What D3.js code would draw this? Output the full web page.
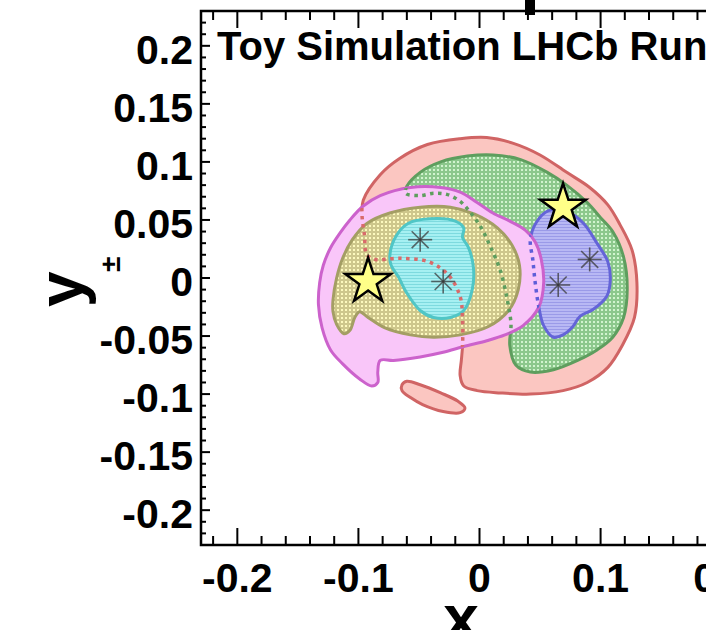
<!DOCTYPE html>
<html>
<head>
    <meta charset="UTF-8">
    <script src="https://d3js.org/d3.v7.min.js"></script>
    <style>
     body { margin: 0; background: white; }
     svg text { font-family: "Liberation Sans", Arial, sans-serif; font-weight: bold; fill: black; }
    </style>
</head>

<body>
    <div id="plot"></div>
    <script>
     // Confidence regions in the (x, y) plane
     const redContour = [
         [-0.096, 0.067], [-0.082, 0.089], [-0.066, 0.103], [-0.043, 0.115], [-0.016, 0.120],
         [0.006, 0.121], [0.028, 0.116], [0.050, 0.106], [0.072, 0.091], [0.091, 0.078],
         [0.106, 0.063], [0.116, 0.046], [0.126, 0.024], [0.130, -0.004], [0.128, -0.034],
         [0.118, -0.058], [0.106, -0.077], [0.089, -0.090], [0.069, -0.097], [0.042, -0.100],
         [0.017, -0.099], [-0.002, -0.097], [-0.013, -0.093], [-0.016, -0.084], [-0.015, -0.071],
         [-0.014, -0.058], [-0.014, -0.036], [-0.016, -0.016], [-0.026, 0.003], [-0.042, 0.014],
         [-0.066, 0.017], [-0.086, 0.016], [-0.093, 0.020], [-0.095, 0.037], [-0.097, 0.054]
     ];
     const redIsland = [
         [-0.064, -0.092], [-0.060, -0.089], [-0.049, -0.092], [-0.032, -0.099], [-0.018, -0.106],
         [-0.012, -0.112], [-0.016, -0.116], [-0.030, -0.115], [-0.047, -0.109], [-0.057, -0.103],
         [-0.064, -0.097]
     ];
     const greenContour = [
         [-0.060, 0.079], [-0.049, 0.091], [-0.032, 0.100], [-0.010, 0.105], [0.011, 0.106],
         [0.034, 0.102], [0.056, 0.091], [0.072, 0.080], [0.089, 0.065], [0.100, 0.052],
         [0.110, 0.040], [0.119, 0.018], [0.122, -0.010], [0.119, -0.034], [0.110, -0.051],
         [0.097, -0.062], [0.081, -0.071], [0.061, -0.079], [0.042, -0.081], [0.030, -0.075],
         [0.025, -0.058], [0.026, -0.040], [0.023, -0.019], [0.017, 0.007], [0.009, 0.027],
         [0.001, 0.044], [-0.008, 0.057], [-0.016, 0.066], [-0.027, 0.072], [-0.038, 0.073],
         [-0.049, 0.071], [-0.061, 0.073]
     ];
     const blueContour = [
         [0.042, 0.033], [0.047, 0.048], [0.057, 0.058], [0.073, 0.057], [0.086, 0.047],
         [0.097, 0.030], [0.106, 0.014], [0.108, -0.002], [0.105, -0.016], [0.094, -0.027],
         [0.083, -0.033], [0.077, -0.042], [0.069, -0.049], [0.061, -0.051], [0.053, -0.041],
         [0.049, -0.025], [0.046, -0.004], [0.044, 0.016]
     ];
     const magentaContour = [
         [-0.132, -0.004], [-0.129, 0.011], [-0.123, 0.026], [-0.115, 0.039], [-0.107, 0.050],
         [-0.096, 0.062], [-0.082, 0.071], [-0.057, 0.078], [-0.032, 0.078], [-0.016, 0.074],
         [-0.002, 0.065], [0.011, 0.056], [0.025, 0.049], [0.038, 0.041], [0.046, 0.031],
         [0.051, 0.016], [0.053, -0.004], [0.049, -0.025], [0.036, -0.041], [0.021, -0.049],
         [0.006, -0.054], [-0.013, -0.059], [-0.030, -0.064], [-0.049, -0.068], [-0.071, -0.071],
         [-0.082, -0.071], [-0.084, -0.081], [-0.084, -0.090], [-0.089, -0.093], [-0.099, -0.087],
         [-0.113, -0.074], [-0.123, -0.062], [-0.130, -0.043], [-0.133, -0.023]
     ];
     const yellowContour = [
         [-0.121, -0.019], [-0.118, 0.000], [-0.113, 0.017], [-0.105, 0.033], [-0.093, 0.047],
         [-0.074, 0.056], [-0.049, 0.061], [-0.024, 0.061], [-0.004, 0.055], [0.015, 0.043],
         [0.027, 0.028], [0.033, 0.011], [0.032, -0.010], [0.024, -0.028], [0.007, -0.042],
         [-0.016, -0.049], [-0.038, -0.051], [-0.057, -0.049], [-0.078, -0.043], [-0.092, -0.034],
         [-0.099, -0.029], [-0.103, -0.034], [-0.107, -0.045], [-0.112, -0.048], [-0.118, -0.040],
         [-0.121, -0.029]
     ];
     const cyanContour = [
         [-0.074, 0.020], [-0.069, 0.036], [-0.059, 0.047], [-0.041, 0.051], [-0.020, 0.049],
         [-0.013, 0.043], [-0.014, 0.035], [-0.009, 0.026], [-0.005, 0.009], [-0.006, -0.010],
         [-0.013, -0.028], [-0.024, -0.034], [-0.038, -0.034], [-0.049, -0.028], [-0.060, -0.013],
         [-0.067, 0.001], [-0.073, 0.011]
     ];

     // markers
     const starPoints = [[-0.092, -0.003], [0.069, 0.061]];
     const asteriskPoints = [[-0.049, 0.033], [-0.030, -0.003], [0.091, 0.016], [0.065, -0.006]];

     // axes
     const xMajor = [-0.2, -0.1, 0, 0.1, 0.2];
     const xTickLabels = ["-0.2", "-0.1", "0", "0.1", "0.2"];
     const yMajor = [0.2, 0.15, 0.1, 0.05, 0, -0.05, -0.1, -0.15, -0.2];
     const yTickLabels = ["0.2", "0.15", "0.1", "0.05", "0", "-0.05", "-0.1", "-0.15", "-0.2"];
     const xMinor = d3.range(-22, 23, 2).map(d => d / 100);
     const yMinor = d3.range(-22, 23, 1).map(d => d / 100);
     const titleText = "Toy Simulation LHCb Run";

     const width = 706, height = 630;
     const frame = {left: 201, top: 11, bottom: 545, right: 758};

     let svg = d3.select("#plot").append("svg")
                 .attr("width", width)
                 .attr("height", height);

     let x = d3.scaleLinear().domain([-0.23, 0.23]).range([frame.left, frame.right]);
     let y = d3.scaleLinear().domain([-0.23, 0.23]).range([frame.bottom, frame.top]);

     // hatch patterns
     let defs = svg.append("defs");
     function dotPattern(id, bg, dot) {
         let p = defs.append("pattern").attr("id", id)
                     .attr("width", 4).attr("height", 4)
                     .attr("patternUnits", "userSpaceOnUse");
         p.append("rect").attr("width", 4).attr("height", 4).attr("fill", bg);
         p.append("rect").attr("x", 1).attr("y", 1).attr("width", 2).attr("height", 2).attr("fill", dot);
     }
     function linePattern(id, bg, line) {
         let p = defs.append("pattern").attr("id", id)
                     .attr("width", 3).attr("height", 3)
                     .attr("patternUnits", "userSpaceOnUse");
         p.append("rect").attr("width", 3).attr("height", 3).attr("fill", bg);
         p.append("rect").attr("y", 2).attr("width", 3).attr("height", 1).attr("fill", line);
     }
     dotPattern("greenHatch", "#8cc88c", "#d2f4cf");
     dotPattern("yellowHatch", "#cec78c", "#fdf9be");
     linePattern("cyanHatch", "#a6f0f2", "#7edadf");
     linePattern("blueHatch", "#b8b8f4", "#9a9ae8");

     let contourLine = d3.line()
         .x(d => x(d[0]))
         .y(d => y(d[1]))
         .curve(d3.curveCatmullRomClosed.alpha(0.5));

     defs.append("clipPath").attr("id", "magentaClip")
         .append("path").attr("d", contourLine(magentaContour));

     const regions = [
         {pts: redContour, fill: "#fbc6c1", stroke: "#d06464"},
         {pts: redIsland, fill: "#fbc6c1", stroke: "#d06464"},
         {pts: greenContour, fill: "url(#greenHatch)", stroke: "#5e9e5e"},
         {pts: blueContour, fill: "url(#blueHatch)", stroke: "#6464d8"},
         {pts: magentaContour, fill: "#f9c6f9", stroke: "#cc62cc"},
         {pts: yellowContour, fill: "url(#yellowHatch)", stroke: "#a49e64"},
         {pts: cyanContour, fill: "url(#cyanHatch)", stroke: "#50c6c6"}
     ];

     svg.append("g").selectAll("path.region")
        .data(regions)
        .enter()
        .append("path")
        .attr("class", "region")
        .attr("d", d => contourLine(d.pts))
        .attr("fill", d => d.fill)
        .attr("stroke", d => d.stroke)
        .attr("stroke-width", 3)
        .attr("stroke-linejoin", "round");

     // hidden boundaries below the magenta region drawn dotted
     const hidden = [
         {pts: redContour, stroke: "#d86a6a"},
         {pts: greenContour, stroke: "#5e9e5e"},
         {pts: blueContour, stroke: "#5e5ed8"}
     ];
     svg.append("g").attr("clip-path", "url(#magentaClip)")
        .selectAll("path")
        .data(hidden)
        .enter()
        .append("path")
        .attr("d", d => contourLine(d.pts))
        .attr("fill", "none")
        .attr("stroke", d => d.stroke)
        .attr("stroke-width", 3.5)
        .attr("stroke-dasharray", "3.5,4.5");

     // asterisks
     let ast = svg.append("g").selectAll("g.ast")
                  .data(asteriskPoints)
                  .enter()
                  .append("g")
                  .attr("class", "ast")
                  .attr("transform", d => `translate(${x(d[0])},${y(d[1])})`);
     [0, 45, 90, 135].forEach(a => {
         ast.append("line")
            .attr("x1", -12).attr("x2", 12)
            .attr("transform", `rotate(${a})`)
            .attr("stroke", "#3a3a3a")
            .attr("stroke-opacity", 0.75)
            .attr("stroke-width", 1.6);
     });

     // stars
     svg.append("g").selectAll("path.star")
        .data(starPoints)
        .enter()
        .append("path")
        .attr("class", "star")
        .attr("d", d3.symbol(d3.symbolStar, 640))
        .attr("transform", d => `translate(${x(d[0])},${y(d[1])})`)
        .attr("fill", "#ffff88")
        .attr("stroke", "black")
        .attr("stroke-width", 2.5)
        .attr("stroke-linejoin", "miter");

     // frame
     svg.append("rect")
        .attr("x", frame.left)
        .attr("y", frame.top)
        .attr("width", frame.right - frame.left)
        .attr("height", frame.bottom - frame.top)
        .attr("fill", "none")
        .attr("stroke", "black")
        .attr("stroke-width", 2.5);

     let ticks = svg.append("g").attr("stroke", "black").attr("stroke-width", 2);
     xMinor.forEach(v => {
         let major = xMajor.some(m => Math.abs(m - v) < 1e-9);
         let len = major ? 17 : 9;
         ticks.append("line").attr("x1", x(v)).attr("x2", x(v))
              .attr("y1", frame.bottom).attr("y2", frame.bottom - len);
         ticks.append("line").attr("x1", x(v)).attr("x2", x(v))
              .attr("y1", frame.top).attr("y2", frame.top + len);
     });
     yMinor.forEach(v => {
         let major = yMajor.some(m => Math.abs(m - v) < 1e-9);
         let len = major ? 9 : 5;
         ticks.append("line").attr("y1", y(v)).attr("y2", y(v))
              .attr("x1", frame.left).attr("x2", frame.left + len);
     });

     svg.append("g").selectAll("text")
        .data(xMajor)
        .enter()
        .append("text")
        .attr("x", d => x(d))
        .attr("y", 592)
        .attr("text-anchor", "middle")
        .style("font-size", "41px")
        .text((d, i) => xTickLabels[i]);

     svg.append("g").selectAll("text")
        .data(yMajor)
        .enter()
        .append("text")
        .attr("x", 193)
        .attr("y", d => y(d) + 18)
        .attr("text-anchor", "end")
        .style("font-size", "41px")
        .text((d, i) => yTickLabels[i]);

     // axis titles
     svg.append("text")
        .attr("transform", "translate(83,307) rotate(-90)")
        .style("font-size", "64px")
        .text("y");
     svg.append("text")
        .attr("transform", "translate(120,272) rotate(-90)")
        .style("font-size", "28px")
        .text("±");
     svg.append("text")
        .attr("x", 461)
        .attr("y", 640)
        .attr("text-anchor", "middle")
        .style("font-size", "64px")
        .text("x");

     svg.append("text")
        .attr("x", 217)
        .attr("y", 60)
        .style("font-size", "40px")
        .text(titleText);

     // piece of the upper panel peeking in
     svg.append("rect")
        .attr("x", 525).attr("y", 0)
        .attr("width", 10).attr("height", 15)
        .attr("fill", "black");
    </script>
</body>

</html>
